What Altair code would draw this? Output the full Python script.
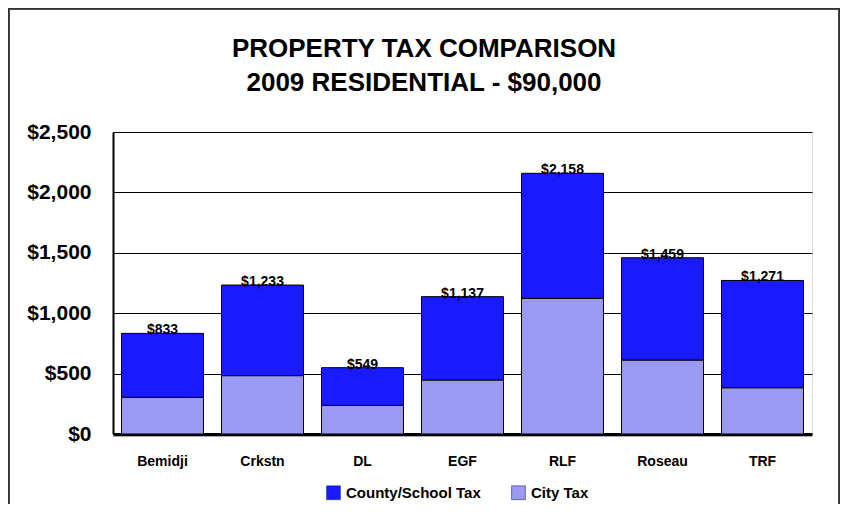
import altair as alt
import pandas as pd

cities = ["Bemidji", "Crkstn", "DL", "EGF", "RLF", "Roseau", "TRF"]
totals = [833, 1233, 549, 1137, 2158, 1459, 1271]
city_tax = [304, 483, 237, 447, 1123, 612, 383]
series = ["County/School Tax", "City Tax"]
colors = ["#1a1aff", "#9a9af4"]
title_lines = ["PROPERTY TAX COMPARISON", "2009 RESIDENTIAL - $90,000"]

rows = []
for c, t, ct in zip(cities, totals, city_tax):
    rows.append({"city": c, "series": "City Tax", "value": ct, "ord": 0})
    rows.append({"city": c, "series": "County/School Tax", "value": t - ct, "ord": 1})
df = pd.DataFrame(rows)
tot_df = pd.DataFrame({"city": cities, "total": totals,
                       "label": ["${:,}".format(v) for v in totals]})

FONT = "Liberation Sans"

x_enc = alt.X("city:N", sort=cities, title=None,
              scale=alt.Scale(paddingInner=0.18, paddingOuter=0.085),
              axis=alt.Axis(labelAngle=0, ticks=False, labelPadding=20,
                            labelFontSize=14, labelFontWeight="bold",
                            labelFont=FONT, labelColor="black",
                            domainColor="black", domainWidth=3))

bars = alt.Chart(df).mark_bar(stroke="black", strokeWidth=1).encode(
    x=x_enc,
    y=alt.Y("value:Q", stack="zero", title=None,
            scale=alt.Scale(domain=[0, 2500], nice=False),
            axis=alt.Axis(values=[0, 500, 1000, 1500, 2000, 2500],
                          labelExpr="'$' + format(datum.value, ',')",
                          ticks=False, labelPadding=22, labelFontSize=21,
                          labelFontWeight="bold", labelFont=FONT,
                          labelColor="black", domainColor="black",
                          domainWidth=2, grid=True, gridColor="black",
                          gridWidth=1, gridOpacity=1)),
    color=alt.Color("series:N", sort=series,
                    scale=alt.Scale(domain=series, range=colors),
                    legend=alt.Legend(title=None, orient="none",
                                      legendX=213, legendY=353,
                                      direction="horizontal",
                                      symbolType="square", symbolSize=190,
                                      symbolStrokeColor="#000080",
                                      symbolStrokeWidth=0.5,
                                      symbolOpacity=1,
                                      labelFontSize=15, labelFontWeight="bold",
                                      labelFont=FONT, labelColor="black",
                                      labelOffset=5, columnPadding=29)),
    order=alt.Order("ord:Q", sort="ascending"),
)

labels = alt.Chart(tot_df).mark_text(baseline="alphabetic", dy=1,
                                     fontSize=14, fontWeight="bold",
                                     font=FONT, color="black").encode(
    x=alt.X("city:N", sort=cities),
    y=alt.Y("total:Q"),
    text="label:N",
)

title1 = alt.Chart(pd.DataFrame({"t": [title_lines[0]]})).mark_text(
    fontSize=26, fontWeight="bold", font=FONT, color="black",
    baseline="middle", align="center").encode(
    x=alt.value(311), y=alt.value(-83), text="t:N")
title2 = alt.Chart(pd.DataFrame({"t": [title_lines[1]]})).mark_text(
    fontSize=26, fontWeight="bold", font=FONT, color="black",
    baseline="middle", align="center").encode(
    x=alt.value(311), y=alt.value(-49), text="t:N")

frame_left = alt.Chart(tot_df).mark_rule(color="#333333", strokeWidth=1.5, clip=False).encode(
    x=alt.value(-104.5), y=alt.value(-123.5), y2=alt.value(372))
frame_top = alt.Chart(tot_df).mark_rule(color="#333333", strokeWidth=1.5, clip=False).encode(
    x=alt.value(-104.5), x2=alt.value(726.5), y=alt.value(-123.5))
frame_right = alt.Chart(tot_df).mark_rule(color="#333333", strokeWidth=1.5, clip=False).encode(
    x=alt.value(726.5), y=alt.value(-123.5), y2=alt.value(372))
axis_shadow = alt.Chart(tot_df).mark_rule(color="#aaaaaa", strokeWidth=1, clip=False).encode(
    x=alt.value(0), x2=alt.value(699), y=alt.value(304.5))

chart = alt.layer(bars, labels, title1, title2, axis_shadow,
                  frame_left, frame_top, frame_right).properties(
    width=699, height=302,
    padding={"left": 105, "top": 124, "right": 28, "bottom": 70},
    autosize=alt.AutoSizeParams(type="none"),
).configure_view(stroke="#222222", strokeWidth=1.5).configure(background="white")

chart.save("out.html", embed_options={"renderer": "svg", "actions": False})
